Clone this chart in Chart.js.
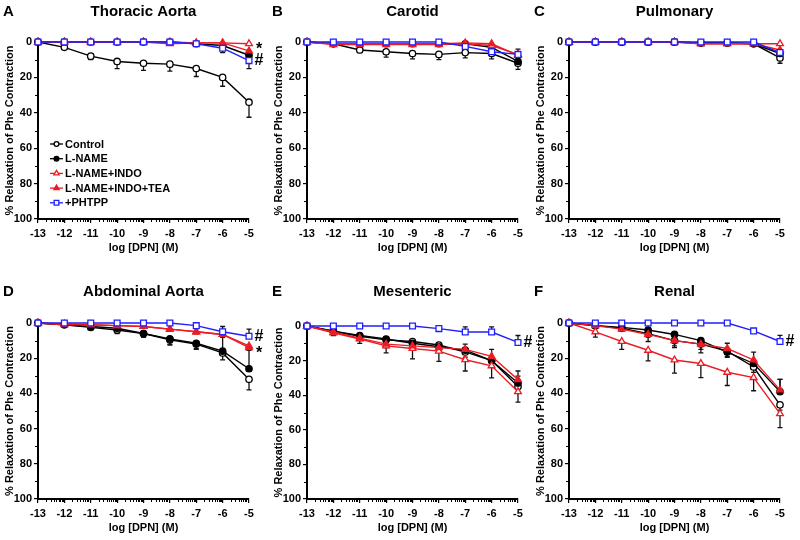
<!DOCTYPE html>
<html>
<head>
<meta charset="utf-8">
<script src="https://cdn.jsdelivr.net/npm/chart.js@4.4.1/dist/chart.umd.min.js"></script>
<style>
  html, body { margin: 0; padding: 0; background: #fff; }
  #wrap { position: relative; width: 800px; height: 540px; overflow: hidden; }
  #wrap canvas { position: absolute; }
</style>
</head>
<body>
<div id="wrap"></div>
<script>
// log [DPN] (M) doses, shared by every panel
const doses = [-13, -12, -11, -10, -9, -8, -7, -6, -5];
const yTicks = [0, 20, 40, 60, 80, 100];
const seriesNames = ['Control', 'L-NAME', 'L-NAME+INDO', 'L-NAME+INDO+TEA', '+PHTPP'];

// mean % relaxation, one row per series (order as seriesNames)
const thoracicMean = [
  [0, 3, 8, 11, 12, 12.5, 15, 20, 34],
  [0, 0, 0, 0, 0, 0, 1, 2, 7.5],
  [0, 0, 0, 0, 0, 0, 0.5, 0.5, 1],
  [0, 0, 0, 0, 0, 1, 0.5, 0.5, 5],
  [0, 0, 0, 0, 0, 0, 1, 3.5, 10.5]
];
// SEM, positive = bar drawn downward, negative = upward
const thoracicSem = [
  [0, 1, 2, 4, 4, 4, 4.5, 5, 8.5],
  [0, 0, 0, 0, 0, 0, 0.5, 1.5, 2],
  [0, 0, 0, 0, 0, 0, 0.5, 0.5, 0.5],
  [0, 0, 0, 0, 0, 0.5, 0.5, 0.5, 1.5],
  [0, 0, 0, 0, 0, 0, 0.5, 2.5, 4.5]
];

const carotidMean = [
  [0, 1, 4.5, 5.5, 6.5, 7, 6, 6.5, 12],
  [0, 1, 1, 1, 1, 1, 1, 3, 11],
  [0, 1.5, 1.5, 1.5, 1.5, 1.5, 1, 2, 7],
  [0, 1, 1, 1, 1, 1, 0.5, 1, 7.5],
  [0, 0, 0, 0, 0, 0, 2.5, 5.5, 7]
];
const carotidSem = [
  [0, 0.5, 1.5, 3, 3, 3, 3, 3, 3.5],
  [0, 0, 0, 0, 0, 0, 0.5, 1, 2],
  [0, 0, 0, 0, 0, 0, 0.5, 1, 1.5],
  [0, 0, 0, 0, 0, 0, 0.5, 0.5, 1],
  [0, 0, 0, 0, 0, 0, 0.5, 1, -3]
];

const pulmonaryMean = [
  [0, 0, 0, 0, 0, 0.5, 0.5, 1, 9],
  [0, 0, 0, 0, 0, 0.5, 0.5, 1, 6.5],
  [0, 0, 0, 0, 0, 1, 1, 1, 1],
  [0, 0, 0, 0, 0, 1, 1, 1, 4.5],
  [0, 0, 0, 0, 0, 0, 0, 0, 6]
];
const pulmonarySem = [
  [0, 0, 0, 0, 0, 0, 0, 0.5, 3],
  [0, 0, 0, 0, 0, 0, 0, 0.5, 1.5],
  [0, 0, 0, 0, 0, 0, 0, 0, 0.5],
  [0, 0, 0, 0, 0, 0, 0, 0, 1],
  [0, 0, 0, 0, 0, 0, 0, 0, 1.5]
];

const abdominalMean = [
  [0, 1, 2.5, 4, 6, 9.5, 12, 17, 32],
  [0, 1, 2, 3, 6, 9, 11.5, 16, 26],
  [0, 0.5, 1, 1.5, 2, 3.5, 5, 6.5, 13],
  [0, 1, 1, 1.5, 2, 3.5, 5, 6.5, 14],
  [0, 0, 0, 0, 0, 0, 1.5, 5, 7.5]
];
const abdominalSem = [
  [0, 0.5, 1, 2, 2, 3, 3, 4, 6],
  [0, 0.5, 1, 1.5, 2, 3, 3, -14, -11],
  [0, 0, 0, 0.5, 0.5, 1, 1, 1.5, 1.5],
  [0, 0, 0, 0.5, 0.5, 1, 1, 1.5, 1.5],
  [0, 0, 0, 0, 0, 0, 0.5, 1, -4]
];

const mesentericMean = [
  [0, 3, 6, 8, 9, 11, 15, 20, 35],
  [0, 3, 5.5, 7.5, 10, 12, 14, 20, 33],
  [0, 4, 7.5, 11.5, 13, 14.5, 19.5, 23, 38],
  [0, 3.5, 7, 10.5, 11.5, 12.5, 13.5, 17.5, 31],
  [0, 0, 0, 0, 0, 1.5, 3.5, 3.5, 9.5]
];
const mesentericSem = [
  [0, 1, 2, 3, 3, 3, 3, 3, 4],
  [0, 1, 1.5, 2, 2, 2, 2, 3, -4],
  [0, 1.5, 2.5, 4, 6, 6, 6.5, 7, 6],
  [0, 1, 1.5, 2, 2, 2, -3, -4, -5],
  [0, 0, 0, 0, 0, 0, -3, -3, -4]
];

const renalMean = [
  [0, 1.5, 3, 6, 10, 12, 16, 25, 46.5],
  [0, 1.5, 2.5, 4, 6.5, 10, 16.5, 23, 39],
  [0, 5, 10.5, 15.5, 21, 23, 28, 31, 51.5],
  [0, 1.5, 3.5, 6.5, 10, 12, 14.5, 21, 38],
  [0, 0, 0, 0, 0, 0, 0, 4.5, 10.5]
];
const renalSem = [
  [0, 0.5, 1, 2, 3, 3, 3, 3, 3],
  [0, 0.5, 1, 1.5, 2, 2.5, 3, 3, -7],
  [0, 3, 4.5, 6, 7.5, 8, 7.5, 7.5, 8],
  [0, 0.5, 1, 4, 4, 5, -3, -4.5, -6],
  [0, 0, 0, 0, 0, 0, 0, -1, -3.5]
];

const BLACK = '#000000', RED = '#ec1c24', BLUE = '#1f1fff';
const seriesColor = [BLACK, BLACK, RED, RED, BLUE];
const seriesShape = ['circle', 'circle', 'triangle', 'triangle', 'rect'];
const seriesRadius = [3.2, 3.2, 3.9, 3.9, 4.1];
const seriesFilled = [false, true, false, true, false];
const FONT = "'Liberation Sans', Arial, Helvetica, sans-serif";

// box = canvas [x, y, w, h], plot = chart area [left, top, right, bottom] (page px)
const panels = [
  { letter: 'A', title: 'Thoracic Aorta', mean: thoracicMean, sem: thoracicSem,
    box: [0, 0, 266, 270], plot: [38, 42, 249, 219], titleY: 12,
    marks: [[2, '*'], [4, '#']], legend: true },
  { letter: 'B', title: 'Carotid', mean: carotidMean, sem: carotidSem,
    box: [266, 0, 266, 270], plot: [307, 42, 518, 219], titleY: 12, marks: [] },
  { letter: 'C', title: 'Pulmonary', mean: pulmonaryMean, sem: pulmonarySem,
    box: [532, 0, 268, 270], plot: [569, 42, 780, 219], titleY: 12, marks: [] },
  { letter: 'D', title: 'Abdominal Aorta', mean: abdominalMean, sem: abdominalSem,
    box: [0, 270, 266, 270], plot: [38, 323, 249, 499], titleY: 292,
    marks: [[4, '#'], [3, '*']] },
  { letter: 'E', title: 'Mesenteric', mean: mesentericMean, sem: mesentericSem,
    box: [266, 270, 266, 270], plot: [307, 326, 518, 499], titleY: 292,
    marks: [[4, '#']] },
  { letter: 'F', title: 'Renal', mean: renalMean, sem: renalSem,
    box: [532, 270, 268, 270], plot: [569, 323, 780, 499], titleY: 292,
    marks: [[4, '#']] }
];

function pointOpts(i) {
  return {
    pointStyle: seriesShape[i],
    radius: seriesRadius[i],
    rotation: 0,
    borderWidth: 1.3
  };
}

// error bars, minor ticks, titles, legend and significance marks
function decor(p) {
  const ox = p.box[0], oy = p.box[1];
  return {
    id: 'decor',
    beforeDatasetsDraw(chart) {
      const { ctx, scales: { x, y } } = chart;
      ctx.save();
      ctx.strokeStyle = '#111';
      ctx.lineWidth = 1.3;
      p.mean.forEach((vals, i) => {
        vals.forEach((v, j) => {
          const e = p.sem[i][j];
          if (!e) return;
          const px = x.getPixelForValue(doses[j]);
          const y0 = y.getPixelForValue(v), y1 = y.getPixelForValue(v + e);
          ctx.beginPath();
          ctx.moveTo(px, y0); ctx.lineTo(px, y1);
          ctx.moveTo(px - 2.5, y1); ctx.lineTo(px + 2.5, y1);
          ctx.stroke();
        });
      });
      ctx.restore();
    },
    afterDraw(chart) {
      const { ctx, chartArea: ca, scales: { x, y } } = chart;
      ctx.save();
      // minor ticks
      ctx.strokeStyle = '#000';
      ctx.lineWidth = 1;
      ctx.beginPath();
      for (let n = -13; n < -5; n++) {
        for (let k = 2; k <= 9; k++) {
          const px = Math.round(x.getPixelForValue(n + Math.log10(k))) + 0.5;
          ctx.moveTo(px, ca.bottom + 1);
          ctx.lineTo(px, ca.bottom + 3);
        }
      }
      for (let v = 10; v < 100; v += 20) {
        const py = Math.round(y.getPixelForValue(v)) + 0.5;
        ctx.moveTo(ca.left - 3, py);
        ctx.lineTo(ca.left, py);
      }
      ctx.stroke();

      ctx.fillStyle = '#000';
      ctx.textBaseline = 'middle';
      // panel letter + title
      ctx.font = 'bold 15px ' + FONT;
      ctx.textAlign = 'left';
      ctx.fillText(p.letter, p.plot[0] - 35 - ox, p.titleY - oy);
      ctx.textAlign = 'center';
      ctx.fillText(p.title, (ca.left + ca.right) / 2, p.titleY - oy);
      // axis titles
      ctx.font = 'bold 11px ' + FONT;
      ctx.fillText('log [DPN] (M)', (ca.left + ca.right) / 2, ca.bottom + 29);
      ctx.save();
      ctx.translate(p.plot[0] - 28 - ox, (ca.top + ca.bottom) / 2);
      ctx.rotate(-Math.PI / 2);
      ctx.fillText('% Relaxation of Phe Contraction', 0, 0);
      ctx.restore();
      // significance marks beside the last dose
      ctx.font = 'bold 16px ' + FONT;
      p.marks.forEach(([si, sym]) => {
        const vy = y.getPixelForValue(p.mean[si][doses.length - 1]);
        ctx.fillText(sym, ca.right + 10, sym === '*' ? vy + 6 : vy);
      });
      // legend
      if (p.legend) {
        ctx.font = 'bold 11px ' + FONT;
        ctx.textAlign = 'left';
        seriesNames.forEach((name, i) => {
          const ly = 144 + i * 14.7;
          ctx.strokeStyle = seriesColor[i];
          ctx.lineWidth = 1.3;
          ctx.beginPath();
          ctx.moveTo(50, ly); ctx.lineTo(63, ly);
          ctx.stroke();
          ctx.fillStyle = seriesFilled[i] ? seriesColor[i] : '#fff';
          Chart.helpers.drawPoint(ctx, { ...pointOpts(i), radius: seriesRadius[i] - 0.8 }, 56.5, ly);
          ctx.fillStyle = '#000';
          ctx.fillText(name, 65, ly + 0.5);
        });
      }
      ctx.restore();
    }
  };
}

const wrap = document.getElementById('wrap');
panels.forEach(p => {
  const [bx, by, bw, bh] = p.box;
  const [pl, pt, pr, pb] = p.plot;
  const cv = document.createElement('canvas');
  cv.width = bw; cv.height = bh;
  cv.style.left = bx + 'px'; cv.style.top = by + 'px';
  cv.style.width = bw + 'px'; cv.style.height = bh + 'px';
  wrap.appendChild(cv);

  // higher order is drawn first, so +PHTPP ends up on top
  const datasets = seriesNames.map((name, i) => ({
    label: name,
    order: seriesNames.length - i,
    data: doses.map((d, j) => ({ x: d, y: p.mean[i][j] })),
    borderColor: seriesColor[i],
    borderWidth: 1.4,
    backgroundColor: seriesFilled[i] ? seriesColor[i] : '#ffffff',
    pointStyle: seriesShape[i],
    pointRadius: seriesRadius[i],
    pointBorderWidth: 1.3,
    pointBorderColor: seriesColor[i],
    pointBackgroundColor: seriesFilled[i] ? seriesColor[i] : '#ffffff',
    tension: 0,
    fill: false,
    clip: false
  }));

  new Chart(cv, {
    type: 'line',
    data: { datasets },
    options: {
      responsive: false,
      animation: false,
      devicePixelRatio: 1,
      layout: { padding: { left: 0, top: pt - by, right: bx + bw - pr, bottom: 0 } },
      plugins: { legend: { display: false }, tooltip: { enabled: false }, title: { display: false } },
      scales: {
        x: {
          type: 'linear', min: -13, max: -5,
          afterFit: s => { s.height = by + bh - pb; },
          ticks: { stepSize: 1, color: '#000', padding: 4, maxRotation: 0, autoSkip: false,
                   font: { family: FONT, size: 11, weight: 'bold' }, callback: v => String(v) },
          grid: { display: true, drawOnChartArea: false, drawTicks: true, tickLength: 4,
                  color: '#000', lineWidth: 1.2 },
          border: { display: true, color: '#000', width: 2 }
        },
        y: {
          min: 0, max: 100, reverse: true,
          afterFit: s => { s.width = pl - bx; },
          afterBuildTicks: s => { s.ticks = yTicks.map(v => ({ value: v })); },
          ticks: { color: '#000', padding: 2,
                   font: { family: FONT, size: 11, weight: 'bold' }, callback: v => String(v) },
          grid: { display: true, drawOnChartArea: false, drawTicks: true, tickLength: 4,
                  color: '#000', lineWidth: 1.2 },
          border: { display: true, color: '#000', width: 2 }
        }
      }
    },
    plugins: [decor(p)]
  });
});
</script>
</body>
</html>
